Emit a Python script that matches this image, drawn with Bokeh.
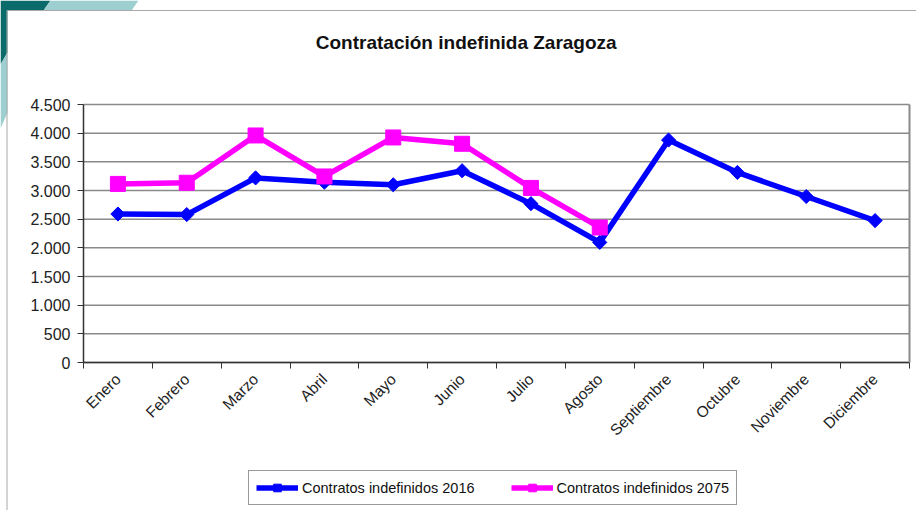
import math
from bokeh.plotting import figure
from bokeh.models import (FixedTicker, CustomJSTickFormatter, Legend, LegendItem,
                          ColumnDataSource, Range1d, LinearAxis, Label)
from bokeh.embed import file_html
from bokeh.resources import INLINE

months = ["Enero", "Febrero", "Marzo", "Abril", "Mayo", "Junio", "Julio",
          "Agosto", "Septiembre", "Octubre", "Noviembre", "Diciembre"]
values_2016 = [2590, 2580, 3220, 3145, 3100, 3345, 2770, 2095, 3880, 3315, 2895, 2475]
months_2075 = months[:8]
values_2075 = [3115, 3135, 3960, 3245, 3925, 3815, 3045, 2355]
y_ticks = [0, 500, 1000, 1500, 2000, 2500, 3000, 3500, 4000, 4500]
title_text = "Contratación  indefinida  Zaragoza"

FONT = "Liberation Sans"
DARK = "#0b6a6a"
LIGHT = "#9dcfd0"
BORDER = "#a8a8a8"
GRID = "#8a8a8a"

# page layout (pixels): plot area of the chart inside the canvas
W, H = 916, 510
PX_L, PX_R, PX_B, PX_T = 83, 909, 362, 104
N = len(months)
YMAX = y_ticks[-1]


def dx(px):
    return (px - PX_L) / (PX_R - PX_L) * N


def dy(py):
    return (PX_B - py) / (PX_B - PX_T) * YMAX


p = figure(width=W, height=H, output_backend="svg", toolbar_location=None,
           x_range=Range1d(dx(0), dx(W)), y_range=Range1d(dy(H), dy(0)),
           min_border=0, min_border_left=0, min_border_right=0,
           min_border_top=0, min_border_bottom=0)
p.background_fill_color = "white"
p.border_fill_color = "white"
p.outline_line_color = None
p.grid.visible = False

# slide template decoration
p.patch([dx(0), dx(50), dx(43), dx(7), dx(7), dx(0)],
        [dy(0), dy(0), dy(10), dy(10), dy(52), dy(64)],
        fill_color=DARK, line_color=None)
p.patch([dx(50), dx(138), dx(131), dx(43)], [dy(0), dy(0), dy(10), dy(10)],
        fill_color=LIGHT, line_color=None)
p.patch([dx(0), dx(7), dx(7), dx(0)], [dy(64), dy(52), dy(112), dy(128)],
        fill_color=LIGHT, line_color=None)
p.segment(x0=[dx(6.5), dx(6.5)], y0=[dy(10), dy(10)], x1=[dx(6.5), dx(W)], y1=[dy(H), dy(10)],
          line_color=BORDER, line_width=1)

# horizontal grid lines across the plot area
p.segment(x0=[0] * len(y_ticks), y0=y_ticks, x1=[N] * len(y_ticks), y1=y_ticks,
          line_color=GRID, line_width=1.5)

# title
p.add_layout(Label(x=dx(471), y=dy(42), text=title_text, text_align="center",
                   text_baseline="middle", text_font=FONT, text_font_size="19px",
                   text_font_style="bold", text_color="#111111"))

# y axis
p.yaxis.fixed_location = 0
p.yaxis.bounds = (0, YMAX)
p.yaxis.ticker = FixedTicker(ticks=y_ticks)
p.yaxis.formatter = CustomJSTickFormatter(code="""
return tick.toFixed(0).replace(/\\B(?=(\\d{3})+(?!\\d))/g, ".");
""")
p.yaxis.axis_line_color = "#333333"
p.yaxis.axis_line_width = 1.5
p.yaxis.major_tick_out = 6
p.yaxis.major_tick_in = 0
p.yaxis.major_tick_line_color = "#333333"
p.yaxis.minor_tick_line_color = None
p.yaxis.major_label_text_font = FONT
p.yaxis.major_label_text_font_size = "16px"
p.yaxis.major_label_text_color = "#222222"
p.yaxis.major_label_standoff = 7

# right border of the plot area
right = LinearAxis(fixed_location=N, bounds=(0, YMAX), ticker=FixedTicker(ticks=[]),
                   axis_line_color=GRID, axis_line_width=2,
                   major_tick_line_color=None, minor_tick_line_color=None,
                   major_label_text_font_size="0px")
p.add_layout(right, "right")

# x axis
x16 = [i + 0.5 for i in range(N)]
x75 = [i + 0.5 for i in range(len(months_2075))]
p.xaxis.fixed_location = 0
p.xaxis.bounds = (0, N)
p.xaxis.ticker = FixedTicker(ticks=x16, minor_ticks=list(range(N + 1)))
p.xaxis.major_label_overrides = {x: m for x, m in zip(x16, months)}
p.xaxis.axis_line_color = "#333333"
p.xaxis.axis_line_width = 1.5
p.xaxis.major_tick_line_color = None
p.xaxis.major_tick_out = 0
p.xaxis.major_tick_in = 0
p.xaxis.minor_tick_out = 6
p.xaxis.minor_tick_in = 0
p.xaxis.minor_tick_line_color = "#333333"
p.xaxis.major_label_orientation = math.pi / 4
p.xaxis.major_label_text_font = FONT
p.xaxis.major_label_text_font_size = "15.5px"
p.xaxis.major_label_text_color = "#222222"
p.xaxis.major_label_standoff = 8

src16 = ColumnDataSource(dict(x=x16, y=values_2016))
src75 = ColumnDataSource(dict(x=x75, y=values_2075))

l1 = p.line("x", "y", source=src16, line_color="#0000ff", line_width=5.5)
m1 = p.scatter("x", "y", source=src16, marker="square", angle=math.pi / 4, size=10,
               fill_color="#0000ff", line_color="#0000ff")
l2 = p.line("x", "y", source=src75, line_color="#ff00ff", line_width=5.5)
m2 = p.scatter("x", "y", source=src75, marker="square", size=15,
               fill_color="#ff00ff", line_color="#ff00ff")

legend = Legend(items=[LegendItem(label="Contratos indefinidos 2016", renderers=[l1, m1]),
                       LegendItem(label="Contratos indefinidos 2075", renderers=[l2, m2])],
                location=(248, H - 505), orientation="horizontal")
legend.label_text_font = FONT
legend.label_text_font_size = "14.5px"
legend.label_text_color = "#111111"
legend.border_line_color = "#333333"
legend.border_line_width = 1
legend.padding = 7
legend.margin = 0
legend.spacing = 36
legend.glyph_width = 42
legend.glyph_height = 19
legend.label_standoff = 4
legend.background_fill_alpha = 1
p.add_layout(legend, "center")

open("out.html", "w").write(file_html(p, INLINE))
